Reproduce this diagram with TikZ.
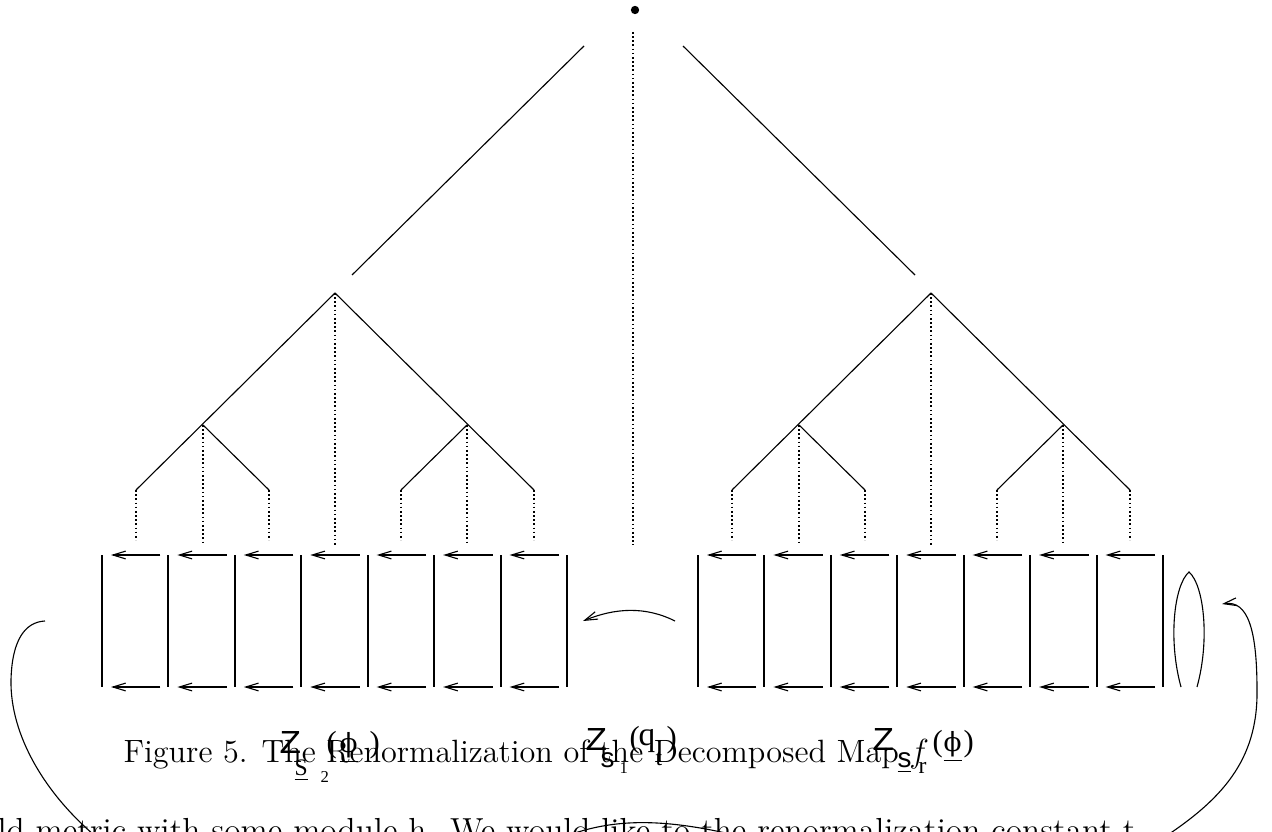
\documentclass[tikz,border=0pt]{standalone}
\usepackage{fontspec}
\newfontfamily\helv{Liberation Sans}
\newfontfamily\tms{Liberation Serif}
\newfontfamily\dvs{DejaVu Serif}
\usetikzlibrary{calc,arrows.meta}

\tikzset{
  branch/.style={line width=0.4pt},
  stem/.style={line width=0.4pt, dash pattern=on 0.6pt off 0.9pt},
  wall/.style={line width=0.75pt},
  shift arrow/.style={line width=0.4pt, -{Straight Barb[length=4.6pt,width=2.8pt]}},
  glyph/.style={inner sep=0pt, anchor=base west},
  zsym/.style={glyph, font=\helv\fontsize{11.5}{13}\selectfont},
  ssym/.style={glyph, font=\helv\fontsize{10}{12}\selectfont},
  arg/.style={glyph, font=\tms\fontsize{11}{13}\selectfont},
  phisym/.style={glyph, font=\dvs\fontsize{9.5}{11}\selectfont},
  idx/.style={glyph, font=\tms\fontsize{6}{7}\selectfont},
  sidx/.style={glyph, font=\tms\fontsize{8.5}{10}\selectfont},
}

\begin{document}
\begin{tikzpicture}[x=0.36pt, y=-0.36pt]
  \useasboundingbox (0,0) rectangle (1272,832);
  \clip (0,0) rectangle (1272,832);

  % root and the two long branches
  \node (root) [circle, fill, inner sep=0pt, minimum size=3pt] at (635,10) {};
  \coordinate (rootfoot) at (633,32);
  \coordinate (mid) at (633,545);
  \draw[stem] (rootfoot) -- (mid);
  \coordinate (ltop) at (584,46);
  \coordinate (lbot) at (352,275);
  \coordinate (rtop) at (683,46);
  \coordinate (rbot) at (915,275);
  \draw[branch] (ltop) -- (lbot);
  \draw[branch] (rtop) -- (rbot);

  % subtrees
  \coordinate (shelf) at (0,540);
  \coordinate (shelf2) at (0,545);
  \foreach \side/\cx in {l/335, r/931} {
    \coordinate (\side-a) at (\cx,293);
    \coordinate (\side-b) at (\cx-132,425);
    \coordinate (\side-c) at (\cx+132,425);
    \coordinate (\side-1) at (\cx-199,490);
    \coordinate (\side-2) at (\cx-66,490);
    \coordinate (\side-3) at (\cx+66,490);
    \coordinate (\side-4) at (\cx+199,490);
    \draw[branch] (\side-a) -- (\side-1);
    \draw[branch] (\side-a) -- (\side-4);
    \draw[branch] (\side-b) -- (\side-2);
    \draw[branch] (\side-c) -- (\side-3);
    \foreach \k in {1,2,3,4}
      \draw[stem] (\side-\k) -- (\side-\k |- shelf);
    \foreach \k in {a,b,c}
      \draw[stem] (\side-\k) -- (\side-\k |- shelf2);
  }

  % the two rows of boxes
  \foreach \g/\gx in {L/102, R/698} {
    \foreach \i in {0,...,7} {
      \coordinate (\g-t\i) at (\gx+66.43*\i,555);
      \coordinate (\g-b\i) at (\gx+66.43*\i,687);
      \draw[wall] (\g-t\i) -- (\g-b\i);
    }
    \foreach \i [evaluate=\i as \j using int(\i+1)] in {0,...,6} {
      \draw[shift arrow] ($(\g-t\j)+(-8,0)$) -- ($(\g-t\i)+(9,0)$);
      \draw[shift arrow] ($(\g-b\j)+(-8,0)$) -- ($(\g-b\i)+(9,0)$);
    }
  }

  % fixed loop at the right end
  \coordinate (loopA) at (1181,687);
  \coordinate (loopTop) at (1189,572);
  \coordinate (loopB) at (1197,687);
  \draw[branch] (loopA) .. controls (1168,640) and (1174,585) .. (loopTop)
    .. controls (1204,585) and (1210,640) .. (loopB);

  % arrow between the two rows
  \coordinate (arcTail) at (675,621);
  \coordinate (arcTip) at (583,621);
  \draw[shift arrow] (arcTail) .. controls (645,606) and (615,608) .. (arcTip);

  % outer curves
  \coordinate (lc0) at (45,621);
  \coordinate (lc1) at (11,680);
  \coordinate (lc2) at (100,840);
  \draw[branch] (lc0) .. controls (25,622) and (12,640) .. (lc1)
    .. controls (10,735) and (45,795) .. (lc2);
  \coordinate (rc0) at (1160,840);
  \coordinate (rc1) at (1257,690);
  \coordinate (rc2) at (1222,604);
  \draw[shift arrow] (rc0) .. controls (1222,800) and (1258,760) .. (rc1)
    .. controls (1257,630) and (1248,600) .. (rc2);
  \coordinate (ba) at (575,833);
  \coordinate (bb) at (730,834);
  \draw[branch] (ba) .. controls (615,820) and (660,818) .. (bb);

  % caption and running text
  \node (caption) [glyph, font=\fontsize{11.6}{14}\selectfont] at (123,762)
    {Figure 5. The Renormalization of the Decomposed Map $f$};
  \node (bodyline) [glyph, font=\fontsize{12}{14}\selectfont] at (-3,841)
    {ld metric with some module h. We would like to the renormalization constant t};

  % labels
  \node (zl) [zsym] at (279,753) {\scalebox{1.1}[1]{Z}};
  \node (zl-s) [sidx] at (294,775) {\underline{S}};
  \node (zl-2) [idx] at (320,782) {2};
  \node (zl-o) [arg] at (326,752) {(};
  \node (zl-p) [phisym] at (339,752) {\underline{ϕ}};
  \node (zl-c) [arg] at (369,752) {)};

  \node (zm) [zsym] at (585,750) {\scalebox{1.1}[1]{Z}};
  \node (zm-s) [ssym] at (600,767) {s};
  \node (zm-1) [idx] at (619,773) {1};
  \node (zm-o) [arg] at (629,747) {(};
  \node (zm-q) [glyph, font=\tms\fontsize{12}{14}\selectfont] at (638,745) {q};
  \node (zm-t) [sidx] at (655,765) {t};
  \node (zm-c) [arg] at (666,747) {)};

  \node (zr) [zsym] at (872,750) {\scalebox{1.1}[1]{Z}};
  \node (zr-s) [ssym] at (897,767) {\underline{s}};
  \node (zr-r) [sidx] at (918,773) {r};
  \node (zr-o) [arg] at (932,751) {(};
  \node (zr-p) [phisym] at (943,751) {\underline{ϕ}};
  \node (zr-c) [arg] at (963,751) {)};
\end{tikzpicture}
\end{document}
